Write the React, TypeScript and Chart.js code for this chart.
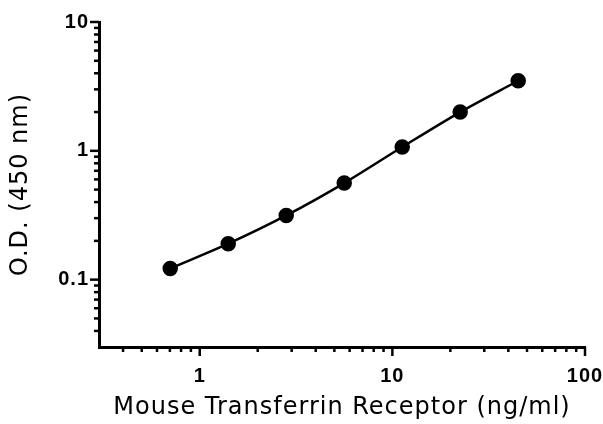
import React, { useEffect, useRef } from "react";
import { Chart, registerables } from "chart.js";

Chart.register(...registerables);

const concentrations = [0.703, 1.406, 2.8125, 5.625, 11.25, 22.5, 45];
const odValues = [0.122, 0.19, 0.315, 0.562, 1.07, 2.0, 3.5];
const xMajorTicks = [1, 10, 100];
const xTickLabels = ["1", "10", "100"];
const yMajorTicks = [0.1, 1, 10];
const yTickLabels = ["0.1", "1", "10"];
const xTitle = "Mouse Transferrin Receptor (ng/ml)";
const yTitle = "O.D. (450 nm)";

function logTicks(min: number, max: number) {
  const out: number[] = [];
  for (let e = -3; e <= 3; e++) {
    for (let k = 1; k <= 9; k++) {
      const v = parseFloat((k * Math.pow(10, e)).toPrecision(6));
      if (v >= min - 1e-9 && v <= max + 1e-9) out.push(v);
    }
  }
  return out;
}

function isMajor(v: number, majors: number[]) {
  return majors.some((m) => Math.abs(m - v) / m < 1e-6);
}

const tickMarks = {
  id: "tickMarks",
  beforeDraw(chart: any) {
    chart.ctx.letterSpacing = "1px";
  },
  afterDraw(chart: any) {
    const { ctx, chartArea } = chart;
    const xs = chart.scales.x;
    const ys = chart.scales.y;
    ctx.save();
    ctx.strokeStyle = "#000";
    ctx.lineWidth = 2.5;
    ctx.lineCap = "butt";
    xs.ticks.forEach((t: any) => {
      const px = xs.getPixelForValue(t.value);
      const len = isMajor(t.value, xMajorTicks) ? 9 : 5;
      ctx.beginPath();
      ctx.moveTo(px, chartArea.bottom);
      ctx.lineTo(px, chartArea.bottom + len);
      ctx.stroke();
    });
    ys.ticks.forEach((t: any) => {
      const py = ys.getPixelForValue(t.value);
      const len = isMajor(t.value, yMajorTicks) ? 9 : 5;
      ctx.beginPath();
      ctx.moveTo(chartArea.left, py);
      ctx.lineTo(chartArea.left - len, py);
      ctx.stroke();
    });
    ctx.restore();
  },
};

export default function App() {
  const ref = useRef<HTMLCanvasElement | null>(null);

  useEffect(() => {
    document.body.style.margin = "0";
    if (!ref.current) return;
    const xMin = 0.32, xMax = 100, yMin = 0.03, yMax = 10;
    const chart = new Chart(ref.current, {
      type: "scatter",
      data: {
        datasets: [
          {
            data: concentrations.map((x, i) => ({ x, y: odValues[i] })),
            showLine: true,
            borderColor: "#000",
            backgroundColor: "#000",
            borderWidth: 2.5,
            pointRadius: 6.5,
            pointHoverRadius: 6.5,
            tension: 0.4,
            cubicInterpolationMode: "monotone",
          } as any,
        ],
      },
      plugins: [tickMarks],
      options: {
        animation: false,
        responsive: false,
        devicePixelRatio: 1,
        layout: { padding: { top: 22, right: 18, left: 0, bottom: 0 } },
        plugins: { legend: { display: false }, tooltip: { enabled: false } },
        scales: {
          x: {
            type: "logarithmic",
            min: xMin,
            max: xMax,
            afterFit: (s: any) => {
              s.height = 77;
              s.paddingLeft = 0;
              s.paddingRight = 0;
            },
            afterBuildTicks: (s: any) => {
              s.ticks = logTicks(xMin, xMax)
                .filter((v) => v > xMin)
                .map((v) => ({ value: v, major: isMajor(v, xMajorTicks) }));
            },
            grid: { display: false, drawTicks: false },
            border: { display: true, color: "#000", width: 3 },
            ticks: {
              autoSkip: false,
              maxRotation: 0,
              padding: 17,
              color: "#000",
              font: { family: "'Liberation Sans', Arial, sans-serif", weight: "bold", size: 20 },
              callback: (v: any) => {
                const i = xMajorTicks.findIndex((m) => Math.abs(m - v) / m < 1e-6);
                return i >= 0 ? xTickLabels[i] : "";
              },
            },
            title: {
              display: true,
              text: xTitle,
              color: "#000",
              padding: { top: 0, bottom: 2 },
              font: { family: "'DejaVu Sans', sans-serif", size: 24 },
            },
          },
          y: {
            type: "logarithmic",
            min: yMin,
            max: yMax,
            afterFit: (s: any) => {
              s.width = 99;
              s.paddingTop = 0;
              s.paddingBottom = 0;
            },
            afterBuildTicks: (s: any) => {
              s.ticks = logTicks(yMin, yMax)
                .filter((v) => v > yMin)
                .map((v) => ({ value: v, major: isMajor(v, yMajorTicks) }));
            },
            grid: { display: false, drawTicks: false },
            border: { display: true, color: "#000", width: 3 },
            ticks: {
              autoSkip: false,
              padding: 10,
              color: "#000",
              font: { family: "'Liberation Sans', Arial, sans-serif", weight: "bold", size: 20 },
              callback: (v: any) => {
                const i = yMajorTicks.findIndex((m) => Math.abs(m - v) / m < 1e-6);
                return i >= 0 ? yTickLabels[i] : "";
              },
            },
            title: {
              display: true,
              text: yTitle,
              color: "#000",
              padding: { top: 6, bottom: 0 },
              font: { family: "'DejaVu Sans', sans-serif", size: 24 },
            },
          },
        },
      },
    });
    return () => chart.destroy();
  }, []);

  return (
    <div style={{ width: 603, height: 424 }}>
      <canvas ref={ref} width={603} height={424} />
    </div>
  );
}
